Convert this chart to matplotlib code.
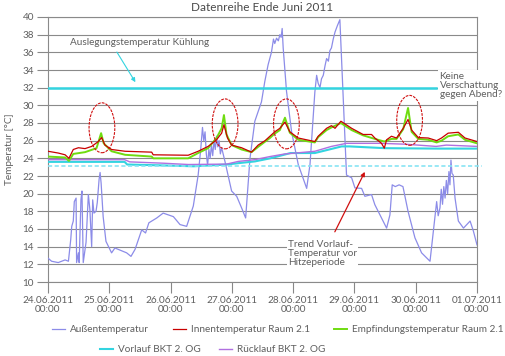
import numpy as np
import matplotlib
matplotlib.use("Agg")
from matplotlib import pyplot as plt
from matplotlib.patches import Ellipse

# hours since 24.06.2011 00:00 and temperatures
out_h = [0, 1.4, 4, 6.7, 8, 8.9, 9.3, 9.9, 10.3, 11, 11.2, 11.9, 12.2, 12.9, 13.3, 13.8, 14.9,
         15.8, 16.4, 17.1, 17.5, 18, 18.8, 19.3, 20, 20.4, 20.8, 21.6, 22.7, 24.9, 26.2, 30.8,
         32.5, 34.1, 35.4, 36.7, 38.2, 39.5, 42.6, 45.1, 49.1, 51.7, 54.3, 56.9, 58.8, 59.8,
         60.5, 61, 61.5, 62, 62.5, 63, 63.5, 64, 64.5, 65, 65.5, 66, 66.5, 67, 67.5, 68, 69.3,
         71.9, 73.9, 75.8, 77.4, 79.1, 81, 83.6, 84.9, 86.2, 87.5, 88.3, 88.8, 89.5, 90.2, 90.8,
         91.3, 91.7, 92.1, 93.4, 95.4, 98, 101.3, 102.6, 103.9, 104.5, 105.2, 105.8, 106.5,
         107.1, 107.8, 108.5, 109.1, 109.8, 110.4, 111, 111.7, 112.4, 113.3, 114.3, 115.6,
         116.9, 118.9, 120.2, 122.8, 124.1, 126.7, 128, 130.6, 132.6, 133.9, 134.8, 136, 137.5,
         139, 141, 143.7, 146.3, 149.6, 150.9, 152.2, 152.8, 153.5, 154, 154.5, 155, 155.5,
         156, 156.5, 157, 157.4, 157.8, 158.2, 158.7, 159.4, 160.7, 162.7, 165.3, 166.6, 168]
out_v = [12.7, 12.35, 12.2, 12.5, 12.35, 14.8, 16.3, 16.9, 19.1, 19.5, 12.2, 13.3, 12.2, 19.3,
         20.3, 12.2, 14.5, 19.9, 18.2, 14.0, 19.3, 17.8, 18.0, 19.0, 21.6, 22.4, 21.2, 17.4,
         14.6, 13.3, 13.85, 13.3, 12.9, 13.7, 14.8, 15.9, 15.55, 16.7, 17.25, 17.8, 17.4, 16.5,
         16.3, 18.6, 22.1, 25.0, 27.5, 26.0, 27.0, 24.5, 23.2, 25.0, 24.0, 25.5, 24.3, 26.0,
         25.0, 26.5, 25.3, 26.0, 24.5, 25.2, 23.65, 20.3, 19.7, 18.4, 17.25, 24.0, 28.2, 30.4,
         32.7, 34.6, 36.0, 37.5, 37.0, 37.6, 37.3, 38.0, 37.7, 38.7, 36.5, 31.6, 27.0, 23.3,
         20.6, 23.3, 28.9, 31.5, 33.4, 32.5, 32.0, 33.0, 33.4, 34.5, 35.3, 35.0, 36.2, 36.5,
         37.5, 38.3, 39.0, 39.7, 30.8, 22.1, 21.8, 20.65, 20.6, 19.7, 19.9, 18.75, 17.25, 16.1,
         17.6, 21.0, 20.8, 21.0, 20.8, 18.0, 15.0, 13.3, 12.35, 15.75, 19.1, 17.5, 18.4, 20.5,
         18.8, 20.8, 19.5, 21.5, 20.0, 22.5, 21.0, 23.8, 22.3, 22.1, 19.5, 16.9, 16.1, 16.9,
         15.75, 14.2]

in_h = [0, 4, 6.7, 8.2, 9.9, 11.9, 14.5, 17.1, 19.7, 21, 22.3, 24.9, 30.2, 40.6, 41.2, 54.9,
        58.8, 62.7, 66, 68, 68.9, 70.3, 71.9, 75.8, 79.7, 82.3, 85, 86.9, 88.8, 90.8, 92.8,
        94.7, 98, 104.5, 105.8, 109.1, 111, 112.4, 114.7, 118.9, 123.4, 126.7, 128, 130.6,
        131.7, 132.6, 134.5, 136.5, 139.1, 141, 142.4, 145, 148.9, 152.2, 154.1, 156.7, 160.7,
        163.3, 168]
in_v = [24.8, 24.6, 24.4, 24.0, 25.0, 25.2, 25.1, 25.35, 25.9, 26.35, 25.5, 25.0, 24.8, 24.7,
        24.4, 24.35, 24.8, 25.35, 26.1, 26.85, 27.8, 26.3, 25.5, 25.2, 24.7, 25.5, 26.0, 26.5,
        27.0, 27.4, 28.1, 27.0, 26.3, 25.9, 26.5, 27.4, 27.7, 27.4, 28.2, 27.4, 26.7, 26.7,
        26.3, 25.7, 25.15, 26.1, 26.5, 26.3, 27.4, 28.4, 27.2, 26.35, 26.3, 26.0, 26.3, 26.85,
        26.95, 26.3, 25.9]

em_h = [0, 6.7, 8.2, 9.9, 14.5, 19, 20.8, 21.8, 24.9, 30.2, 40.6, 41.2, 54.9, 58.8, 62.7, 66,
        68, 68.9, 69.9, 71.9, 75.8, 79.7, 82.3, 86.9, 88.8, 90.8, 92.8, 94.7, 98, 104.5, 105.8,
        109.1, 111, 114.7, 118.9, 123.4, 128, 131.7, 134.5, 136.5, 139.1, 141, 142.4, 145,
        148.9, 152.2, 154.1, 156.7, 160.7, 163.3, 168]
em_v = [24.2, 24.1, 23.7, 24.5, 24.7, 25.15, 26.85, 25.7, 24.8, 24.4, 24.2, 24.0, 24.0, 24.6,
        25.15, 26.3, 27.4, 28.9, 26.7, 25.5, 25.0, 24.7, 25.3, 26.3, 26.8, 27.2, 28.6, 26.9,
        26.1, 25.8, 26.4, 27.2, 27.5, 28.0, 27.2, 26.6, 26.2, 25.9, 26.2, 26.2, 27.3, 29.7,
        27.0, 26.2, 26.1, 25.8, 26.0, 26.5, 26.7, 26.1, 25.7]

vl_h = [0, 30, 31, 45, 57, 70, 76, 81, 87, 95, 104.5, 115, 118, 132, 153, 168]
vl_v = [23.6, 23.6, 23.3, 23.2, 23.1, 23.3, 23.5, 23.65, 24.0, 24.6, 24.6, 25.35, 25.35, 25.15,
        25.1, 25.1]

rl_h = [0, 30, 32, 45, 55, 70, 74.5, 81, 86.9, 92.8, 97, 104.5, 111, 116.9, 130, 140, 152, 156, 168]
rl_v = [23.85, 23.85, 23.6, 23.45, 23.3, 23.35, 23.65, 23.85, 24.2, 24.5, 24.6, 24.8, 25.35,
        25.7, 25.7, 25.6, 25.35, 25.5, 25.35]

design_temp = 32.0
trend_temp = 23.1
# circled peaks: centre day, centre temperature
peak_days = [0.88, 2.89, 3.89, 5.90]
peak_temps = [27.46, 27.9, 27.9, 28.3]

x_labels = ['24.06.2011', '25.06.2011', '26.06.2011', '27.06.2011', '28.06.2011',
            '29.06.2011', '30.06.2011', '01.07.2011']

plt.rcParams['font.family'] = ['Lato', 'DejaVu Sans']
txt = '#5f5f5f'
fs = 7.2

fig = plt.figure(figsize=(5.06, 3.56), dpi=100)
ax = fig.add_axes([48/506, 1-282/356, (477-48)/506, (282-17)/356])

d = lambda h: np.array(h) / 24.0
l_out, = ax.plot(d(out_h), out_v, color='#8c8ce8', lw=0.9, label='Außentemperatur', zorder=3)
l_em, = ax.plot(d(em_h), em_v, color='#6fdc10', lw=1.4, label='Empfindungstemperatur Raum 2.1', zorder=4)
l_in, = ax.plot(d(in_h), in_v, color='#c80000', lw=0.9, label='Innentemperatur Raum 2.1', zorder=5)
l_vl, = ax.plot(d(vl_h), vl_v, color='#33d4e0', lw=1.5, label='Vorlauf BKT 2. OG', zorder=3)
l_rl, = ax.plot(d(rl_h), rl_v, color='#b070e0', lw=1.0, label='Rücklauf BKT 2. OG', zorder=3)

ax.plot([0, 6.33], [design_temp, design_temp], color='#33d4e0', lw=1.8, zorder=3)
ax.plot([0, 7.08], [trend_temp, trend_temp], color='#88e4f4', lw=1.2, ls=(0, (2.5, 1.5)),
        clip_on=False, zorder=3)

for cx, cy in zip(peak_days, peak_temps):
    ax.add_patch(Ellipse((cx, cy), 0.42, 5.65, fill=False, ec='#d01010', lw=0.8,
                         ls=(0, (2.5, 1.0)), zorder=6))

ax.set_xlim(0, 7)
ax.set_ylim(10, 40)
ax.set_xticks(range(8))
ax.set_xticklabels([s + '\n00:00' for s in x_labels], linespacing=1.0)
ax.set_yticks(range(10, 41, 2))
ax.tick_params(axis='both', direction='out', length=8, width=0.8, color='#888888',
               labelcolor=txt, labelsize=fs, pad=2)
ax.grid(axis='y', color='#8a8a8a', lw=0.8)
ax.set_axisbelow(True)
for s in ax.spines.values():
    s.set_color('#8a8a8a')
    s.set_linewidth(0.8)
ax.set_ylabel('Temperatur [°C]', color=txt, fontsize=fs, labelpad=6)
ax.set_title('Datenreihe Ende Juni 2011', color='#4a4a4a', fontsize=8.5, pad=4)

ax.text(0.36, 37.06, 'Auslegungstemperatur Kühlung', color=txt, fontsize=fs, va='center')
ax.annotate('', xy=(1.45, 32.35), xytext=(1.1, 36.3),
            arrowprops=dict(arrowstyle='-|>', color='#33d4e0', lw=0.8, mutation_scale=6))
ax.text(6.39, 32.25, 'Keine\nVerschattung\ngegen Abend?', color=txt, fontsize=fs,
        va='center', linespacing=1.05, clip_on=False, zorder=10,
        bbox=dict(fc='white', ec='none', pad=1))
ax.annotate('', xy=(5.19, 22.75), xytext=(4.66, 15.4),
            arrowprops=dict(arrowstyle='-|>', color='#d01010', lw=0.9, mutation_scale=6),
            zorder=7)
ax.text(3.915, 13.2, 'Trend Vorlauf-\nTemperatur vor\nHitzeperiode', color=txt, fontsize=fs,
        va='center', linespacing=1.0, zorder=10, bbox=dict(fc='white', ec='none', pad=1))

leg_kw = dict(frameon=False, fontsize=fs, borderpad=0, borderaxespad=0, handlelength=1.3,
              handletextpad=0.5, labelcolor=txt, loc='center left')
fig.legend([l_out, l_in, l_em], [l_out.get_label(), l_in.get_label(), l_em.get_label()],
           ncol=3, columnspacing=2.4, bbox_to_anchor=(52/506, 1-330/356), **leg_kw)
fig.legend([l_vl, l_rl], [l_vl.get_label(), l_rl.get_label()],
           ncol=2, columnspacing=1.8, bbox_to_anchor=(100/506, 1-350/356), **leg_kw)

fig.savefig('out.png', dpi=100)
